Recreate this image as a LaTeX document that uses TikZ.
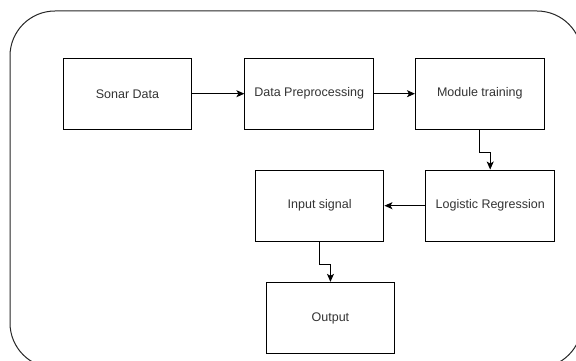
\documentclass[tikz,border=0pt]{standalone}
\usepackage{fontspec}
\setmainfont{Liberation Sans}
\usetikzlibrary{arrows.meta}
\begin{document}
\begin{tikzpicture}[x=1pt,y=-1pt,
  box/.style={draw=black,line width=1pt,minimum width=128.6pt,minimum height=71.3pt,inner sep=0pt,
    font=\fontsize{12.5}{14}\selectfont,text=black!80},
  conn/.style={draw=black,line width=1pt,-{Stealth[length=8pt,width=7pt,inset=2pt]}}]
\useasboundingbox (0,0) rectangle (576,361);
\begin{scope}
\clip (0,0) rectangle (576,361);
\draw[black!85,line width=1pt,rounded corners=45pt] (10,11) rectangle (582,368);
\end{scope}
\node[box] (sonar) at (127.5,93.7) {Sonar Data};
\node[box] (prep) at (309.2,93.7) {Data Preprocessing};
\node[box] (train) at (479.75,93.7) {Module training};
\node[box] (logit) at (490.2,205.7) {Logistic Regression};
\node[box] (input) at (319.65,205.7) {Input signal};
\node[box] (out) at (330.45,318) {Output};
\coordinate (c1) at (479.75,152.5);
\coordinate (c2) at (490.2,152.5);
\coordinate (c3) at (319.65,264.5);
\coordinate (c4) at (330.45,264.5);
\draw[conn] (sonar) -- (prep);
\draw[conn] (prep) -- (train);
\draw[conn] (train.south) -- (c1) -- (c2) -- (logit.north);
\draw[conn] (logit) -- (input);
\draw[conn] (input.south) -- (c3) -- (c4) -- (out.north);
\end{tikzpicture}
\end{document}
